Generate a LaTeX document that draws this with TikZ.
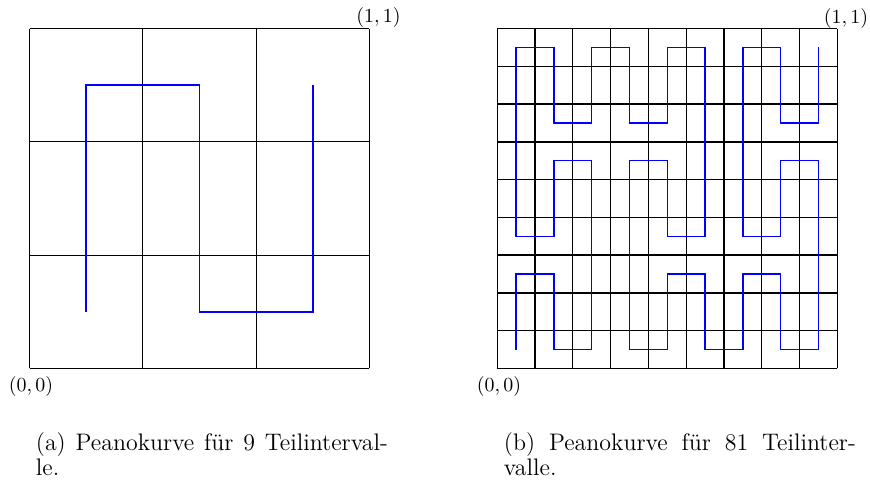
\documentclass[tikz,border=0pt]{standalone}
\usepackage{fontspec}
\begin{document}
\begin{tikzpicture}[x=0.5021pt,y=-0.5021pt,
  gridline/.style={black,line width=0.6pt},
  majorline/.style={black,line width=0.75pt},
  peano/.style={blue,line width=0.75pt,line join=miter},
  corner/.style={inner sep=0pt,font=\fontsize{10}{12}\selectfont},
  captext/.style={anchor=north west,inner sep=0pt,text width=176.7pt,align=justify,font=\fontsize{12}{12.5}\selectfont}]
\useasboundingbox (0,0) rectangle (870,493);

% left picture: 9 subintervals
\begin{scope}[shift={(29.5,368.5)},x=56.90pt,y=56.90pt]
  \draw[gridline] (0,0) grid[step=1] (3,3);
  \draw[peano] (0.5,0.5) -- (0.5,2.5) -- (1.5,2.5) -- (1.5,0.5) -- (2.5,0.5) -- (2.5,2.5);
  \node[corner] (la11) at (3.08,3.093) {$(1,1)$};
  \node[corner] (la00) at (0.013,-0.163) {$(0,0)$};
\end{scope}

% right picture: 81 subintervals
\begin{scope}[shift={(497.3,368.5)},x=18.967pt,y=18.967pt]
  \draw[gridline] (0,0) grid[step=1] (9,9);
  \draw[majorline] (0,0) grid[step=3] (9,9);
  \begin{scope}[shift={(0.5,0.5)}]
    \draw[peano] (0,0) -- (0,2) -- (1,2) -- (1,0) -- (2,0) -- (2,5) -- (1,5) -- (1,3) -- (0,3)
      -- (0,8) -- (1,8) -- (1,6) -- (2,6) -- (2,8) -- (3,8) -- (3,6) -- (4,6) -- (4,8) -- (5,8)
      -- (5,3) -- (4,3) -- (4,5) -- (3,5) -- (3,0) -- (4,0) -- (4,2) -- (5,2) -- (5,0) -- (6,0)
      -- (6,2) -- (7,2) -- (7,0) -- (8,0) -- (8,5) -- (7,5) -- (7,3) -- (6,3) -- (6,8) -- (7,8)
      -- (7,6) -- (8,6) -- (8,8);
  \end{scope}
  \node[corner] (lb11) at (9.23,9.277) {$(1,1)$};
  \node[corner] (lb00) at (0.045,-0.49) {$(0,0)$};
\end{scope}

% captions
\node[captext] (capa) at (35.5,432) {(a) Peanokurve für 9 Teilinterval-\linebreak le.};
\node[captext] (capb) at (503.5,432) {(b) Peanokurve für 81 Teilinter-\linebreak valle.};
\end{tikzpicture}
\end{document}
